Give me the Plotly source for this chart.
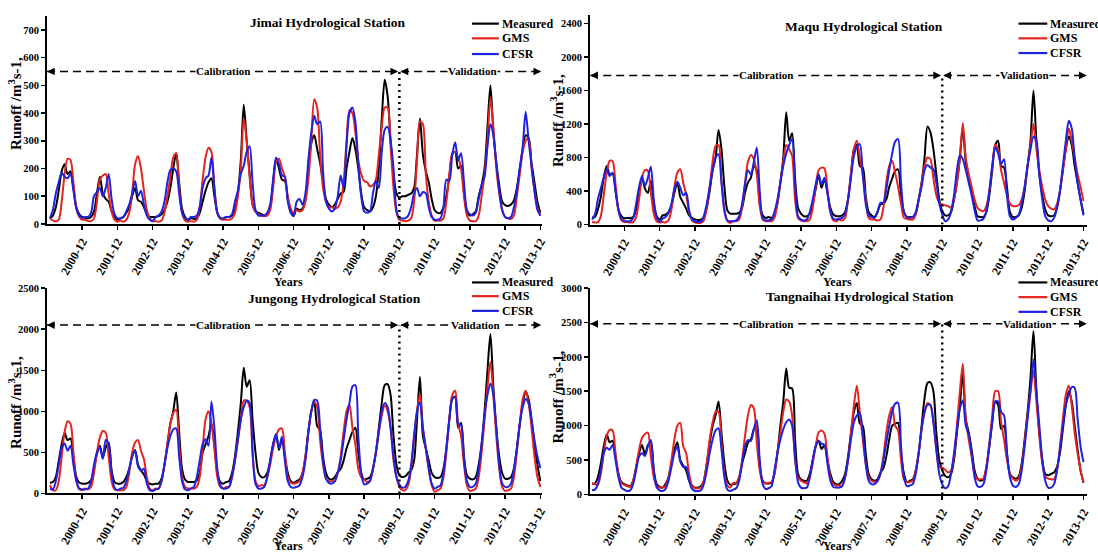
import plotly.graph_objects as go

W, H = 1098, 559

# ---------------- data (monthly, 2000-01 .. 2013-12) ----------------
month_index = list(range(168))
x_tick_vals = [11, 23, 35, 47, 59, 71, 83, 95, 107, 119, 131, 143, 155, 167]
x_tick_labels = ["2000-12", "2001-12", "2002-12", "2003-12", "2004-12", "2005-12", "2006-12",
                 "2007-12", "2008-12", "2009-12", "2010-12", "2011-12", "2012-12", "2013-12"]
split_month = 119  # 2009-12: calibration / validation boundary

jimai_measured = [
    20, 30, 60, 120, 190, 215, 180, 190, 130, 60, 35, 25,
    22, 20, 25, 45, 110, 170, 110, 90, 80, 45, 25, 15,
    20, 25, 40, 60, 100, 130, 85, 80, 60, 35, 25, 25,
    25, 28, 35, 50, 80, 130, 200, 255, 150, 55, 25, 15,
    20, 18, 20, 40, 80, 120, 150, 165, 100, 40, 20, 18,
    25, 25, 30, 50, 110, 230, 430, 300, 180, 70, 45, 40,
    35, 30, 35, 60, 150, 235, 200, 160, 155, 90, 50, 30,
    55, 50, 55, 90, 200, 290, 320, 270, 220, 150, 90, 70,
    60, 70, 90, 110, 115, 200, 260, 310, 270, 200, 110, 60,
    50, 45, 60, 100, 200, 380, 520, 460, 300, 180, 110, 95,
    100, 100, 105, 110, 130, 250, 380, 250, 190, 150, 90, 50,
    40, 40, 60, 100, 170, 250, 260, 200, 210, 110, 45, 30,
    35, 45, 100, 140, 200, 350, 500, 330, 220, 140, 80, 68,
    65, 70, 85, 130, 200, 270, 320, 310, 220, 150, 80, 40]
jimai_gms = [
    20, 12, 10, 15, 80, 180, 235, 230, 150, 55, 25, 15,
    15, 10, 10, 20, 80, 160, 175, 180, 110, 45, 15, 8,
    12, 8, 15, 40, 110, 215, 245, 200, 120, 50, 20, 10,
    10, 8, 12, 40, 100, 170, 240, 255, 130, 40, 12, 8,
    10, 8, 15, 60, 160, 240, 275, 260, 130, 40, 18, 15,
    15, 15, 20, 40, 100, 200, 380, 300, 170, 70, 45, 35,
    30, 28, 30, 50, 130, 225, 235, 200, 170, 100, 55, 40,
    50, 45, 50, 80, 160, 300, 450, 420, 250, 130, 80, 60,
    60, 55, 60, 80, 150, 300, 410, 400, 330, 230, 180, 155,
    150, 135, 140, 160, 250, 350, 420, 420, 280, 130, 40, 15,
    12, 10, 12, 20, 80, 230, 370, 360, 180, 80, 30, 12,
    12, 12, 20, 80, 180, 255, 260, 240, 200, 100, 30, 12,
    10, 10, 30, 100, 180, 300, 455, 350, 200, 110, 50, 25,
    20, 18, 30, 100, 180, 260, 300, 310, 200, 120, 60, 30]
jimai_cfsr = [
    20, 50, 110, 150, 185, 170, 165, 180, 120, 55, 30, 22,
    25, 25, 40, 100, 115, 130, 100, 130, 180, 90, 35, 20,
    20, 25, 45, 70, 110, 155, 100, 120, 70, 30, 15, 10,
    25, 30, 45, 80, 150, 195, 200, 190, 110, 40, 20, 15,
    25, 25, 30, 60, 130, 165, 175, 240, 130, 40, 22, 20,
    25, 25, 35, 80, 120, 180, 210, 260, 280, 150, 50, 30,
    30, 30, 40, 70, 160, 240, 215, 175, 170, 80, 40, 28,
    80, 90, 70, 110, 230, 330, 390, 360, 370, 190, 80, 55,
    45, 55, 100, 175, 130, 280, 400, 420, 370, 220, 100, 45,
    40, 45, 110, 155, 130, 260, 340, 350, 300, 200, 50, 20,
    20, 20, 30, 60, 110, 130, 100, 115, 110, 60, 25, 15,
    15, 20, 60, 160, 155, 250, 295, 230, 255, 150, 50, 35,
    30, 40, 90, 140, 170, 280, 360, 320, 220, 120, 50, 25,
    20, 25, 60, 120, 200, 280, 405, 300, 210, 120, 50, 30]

maqu_measured = [
    85, 90, 180, 330, 560, 700, 600, 610, 400, 180, 100, 75,
    80, 75, 90, 180, 380, 560, 430, 380, 520, 250, 100, 60,
    110, 120, 150, 220, 380, 500, 330, 260, 190, 110, 80, 60,
    55, 60, 90, 200, 400, 650, 800, 1130, 900, 450, 170, 130,
    130, 130, 140, 200, 380, 500, 560, 700, 650, 250, 110, 80,
    90, 80, 120, 250, 500, 800, 1340, 1000, 1090, 550, 200, 130,
    100, 100, 130, 250, 420, 590, 440, 540, 380, 200, 120, 100,
    100, 110, 150, 300, 600, 900, 950, 700, 680, 350, 150, 110,
    90, 150, 240, 250, 300, 450, 550, 640, 660, 350, 150, 90,
    90, 90, 130, 300, 500, 800, 1170, 1100, 900, 600, 300, 160,
    110, 110, 150, 300, 500, 800, 1150, 750, 580, 400, 220, 100,
    90, 90, 150, 350, 650, 950, 1000, 700, 680, 450, 150, 90,
    90, 110, 200, 400, 700, 1000, 1600, 1000, 600, 350, 180, 110,
    100, 110, 200, 400, 650, 900, 1050, 950, 700, 500, 300, 130]
maqu_gms = [
    30, 25, 30, 100, 350, 620, 760, 760, 480, 170, 50, 30,
    30, 25, 30, 90, 300, 560, 650, 640, 380, 130, 40, 25,
    30, 25, 50, 180, 450, 620, 660, 500, 360, 150, 50, 25,
    20, 20, 50, 200, 450, 750, 940, 950, 520, 180, 40, 20,
    40, 40, 60, 200, 500, 750, 830, 780, 600, 220, 60, 40,
    40, 40, 80, 250, 500, 750, 950, 900, 820, 300, 80, 50,
    40, 40, 60, 200, 450, 650, 680, 670, 420, 150, 50, 40,
    60, 50, 80, 300, 620, 900, 1000, 800, 600, 300, 80, 60,
    60, 50, 60, 200, 500, 700, 760, 620, 450, 250, 80, 70,
    60, 60, 120, 300, 500, 700, 800, 780, 550, 350, 260, 240,
    230, 220, 200, 300, 500, 800, 1210, 800, 600, 450, 300, 200,
    170, 160, 220, 400, 700, 950, 900, 650, 500, 350, 250, 220,
    220, 230, 300, 450, 700, 950, 1200, 900, 650, 450, 300, 220,
    190, 180, 250, 400, 650, 900, 1150, 1000, 800, 600, 450, 280]
maqu_cfsr = [
    60, 120, 300, 430, 560, 660, 580, 620, 420, 170, 70, 45,
    40, 40, 80, 250, 450, 580, 460, 560, 690, 300, 80, 35,
    70, 90, 140, 250, 420, 510, 440, 350, 380, 170, 60, 40,
    30, 35, 100, 250, 450, 650, 800, 840, 500, 160, 50, 40,
    40, 50, 100, 250, 480, 650, 600, 750, 920, 400, 80, 50,
    50, 60, 150, 300, 500, 700, 850, 950, 1020, 500, 100, 60,
    50, 60, 150, 300, 480, 600, 480, 560, 380, 150, 70, 60,
    70, 80, 130, 300, 560, 820, 930, 960, 600, 250, 110, 90,
    80, 150, 260, 260, 420, 650, 850, 990, 1020, 500, 150, 90,
    80, 90, 150, 300, 450, 650, 710, 680, 660, 500, 250, 120,
    40, 60, 150, 350, 650, 830, 780, 650, 500, 350, 170, 50,
    50, 70, 160, 400, 700, 920, 850, 720, 780, 350, 100, 60,
    80, 120, 250, 450, 700, 900, 1050, 1000, 600, 300, 100, 50,
    40, 80, 200, 400, 700, 1000, 1240, 1150, 800, 500, 300, 110]

jungong_measured = [
    130, 140, 200, 400, 600, 740, 650, 670, 450, 200, 130, 120,
    120, 130, 160, 300, 480, 580, 440, 560, 620, 280, 140, 120,
    120, 140, 200, 300, 450, 530, 350, 280, 230, 150, 120, 110,
    120, 120, 180, 350, 600, 850, 1000, 1230, 750, 300, 170, 140,
    140, 140, 160, 250, 500, 600, 700, 850, 600, 250, 140, 120,
    140, 150, 250, 450, 750, 1100, 1530, 1300, 1380, 900, 500, 250,
    200, 200, 250, 400, 600, 720, 530, 660, 450, 250, 150, 130,
    150, 170, 250, 450, 750, 1000, 1130, 820, 770, 450, 250, 180,
    170, 200, 260, 300, 400, 550, 650, 750, 800, 500, 250, 170,
    180, 200, 300, 500, 800, 1100, 1320, 1330, 1200, 700, 350, 220,
    200, 210, 250, 280, 400, 900, 1420, 700, 550, 400, 250, 200,
    190, 200, 300, 550, 900, 1150, 1180, 800, 860, 450, 220, 180,
    170, 200, 350, 600, 1000, 1500, 1940, 1300, 800, 450, 250, 180,
    180, 200, 300, 550, 850, 1100, 1240, 1150, 900, 600, 350, 150]
jungong_gms = [
    100, 40, 40, 150, 450, 750, 880, 850, 500, 150, 50, 40,
    60, 50, 80, 250, 500, 680, 760, 740, 450, 150, 50, 40,
    40, 40, 80, 250, 500, 620, 650, 520, 420, 200, 60, 40,
    60, 60, 150, 350, 600, 850, 980, 1020, 600, 200, 80, 60,
    60, 60, 80, 200, 550, 900, 1000, 850, 550, 200, 80, 60,
    80, 80, 200, 400, 650, 900, 1130, 1130, 1050, 500, 150, 90,
    100, 100, 200, 350, 550, 700, 780, 790, 500, 200, 130, 120,
    130, 150, 250, 450, 750, 1000, 1110, 1050, 650, 350, 180, 150,
    150, 150, 250, 450, 750, 1000, 1080, 800, 600, 300, 200, 170,
    140, 160, 300, 500, 750, 950, 1070, 1000, 800, 400, 200, 80,
    40, 40, 100, 300, 700, 1000, 1210, 800, 550, 300, 100, 20,
    40, 60, 200, 500, 900, 1200, 1250, 850, 700, 350, 100, 30,
    40, 60, 200, 500, 900, 1300, 1600, 1200, 700, 300, 80, 30,
    40, 60, 200, 500, 850, 1150, 1250, 1100, 800, 450, 200, 80]
jungong_cfsr = [
    60, 50, 150, 350, 550, 610, 520, 580, 350, 150, 60, 50,
    50, 60, 150, 350, 500, 560, 420, 650, 600, 250, 70, 40,
    60, 70, 150, 300, 450, 520, 330, 280, 300, 120, 40, 30,
    50, 60, 150, 350, 550, 700, 780, 790, 450, 150, 50, 40,
    60, 80, 200, 400, 600, 660, 580, 1120, 800, 300, 100, 60,
    60, 80, 200, 400, 650, 900, 1050, 1130, 1100, 500, 120, 60,
    60, 80, 200, 400, 600, 720, 550, 690, 400, 150, 80, 70,
    80, 100, 200, 400, 750, 1000, 1140, 1130, 800, 400, 180, 130,
    120, 150, 250, 400, 650, 900, 1100, 1300, 1320, 700, 250, 110,
    120, 150, 300, 500, 750, 1000, 1100, 1050, 800, 450, 200, 110,
    70, 80, 150, 350, 700, 1000, 1110, 800, 550, 300, 120, 60,
    80, 100, 250, 550, 900, 1150, 1170, 850, 830, 420, 150, 80,
    80, 120, 300, 600, 950, 1200, 1340, 1200, 800, 350, 120, 80,
    80, 120, 300, 550, 850, 1050, 1150, 1100, 900, 650, 450, 310]

tangnaihai_measured = [
    160, 160, 250, 450, 700, 870, 760, 780, 550, 300, 180, 150,
    130, 120, 200, 400, 600, 720, 580, 720, 760, 350, 150, 110,
    100, 150, 250, 450, 650, 760, 500, 420, 350, 200, 130, 100,
    100, 120, 200, 450, 750, 1000, 1150, 1350, 900, 450, 200, 140,
    150, 160, 250, 450, 600, 750, 800, 950, 1000, 400, 200, 160,
    160, 170, 300, 600, 1000, 1350, 1830, 1550, 1540, 800, 300, 220,
    200, 200, 300, 500, 700, 780, 660, 720, 500, 300, 180, 150,
    150, 200, 300, 550, 900, 1200, 1330, 1030, 1000, 600, 300, 220,
    200, 220, 320, 380, 550, 800, 1000, 1030, 1040, 600, 300, 180,
    200, 220, 350, 600, 1000, 1400, 1620, 1630, 1500, 900, 500, 350,
    270, 250, 300, 500, 900, 1300, 1750, 1100, 900, 650, 350, 230,
    200, 220, 400, 700, 1050, 1350, 1300, 950, 1000, 600, 300, 250,
    230, 260, 450, 800, 1200, 1700, 2380, 1500, 900, 500, 300, 280,
    300, 320, 400, 600, 950, 1300, 1500, 1350, 1000, 650, 350, 170]
tangnaihai_gms = [
    160, 150, 140, 300, 600, 850, 940, 930, 600, 300, 160, 140,
    120, 110, 200, 400, 650, 820, 880, 900, 550, 250, 120, 100,
    100, 120, 250, 500, 800, 1000, 1040, 700, 600, 300, 130, 90,
    90, 100, 200, 450, 800, 1050, 1200, 1200, 750, 300, 130, 100,
    170, 170, 250, 500, 850, 1150, 1300, 1250, 750, 350, 180, 160,
    170, 180, 300, 600, 900, 1200, 1380, 1350, 1150, 500, 250, 200,
    180, 160, 250, 450, 700, 900, 930, 880, 550, 250, 150, 130,
    130, 130, 250, 500, 900, 1300, 1580, 1200, 800, 450, 250, 200,
    180, 190, 300, 550, 900, 1150, 1270, 1000, 930, 500, 220, 180,
    180, 200, 350, 600, 950, 1200, 1330, 1300, 1050, 650, 400, 390,
    360, 320, 350, 550, 1000, 1500, 1900, 1100, 800, 550, 300, 220,
    220, 230, 400, 750, 1150, 1500, 1500, 1050, 800, 500, 300, 230,
    200, 230, 400, 750, 1150, 1500, 1800, 1350, 850, 450, 260, 230,
    220, 220, 350, 700, 1100, 1450, 1580, 1300, 900, 600, 350, 180]
tangnaihai_cfsr = [
    60, 70, 150, 350, 600, 680, 650, 720, 500, 250, 100, 70,
    50, 60, 150, 350, 550, 600, 560, 700, 790, 350, 100, 60,
    50, 80, 200, 400, 600, 700, 480, 400, 400, 200, 80, 50,
    50, 60, 150, 350, 600, 800, 930, 960, 650, 250, 70, 50,
    70, 90, 200, 450, 700, 790, 780, 950, 1080, 500, 150, 80,
    90, 120, 350, 600, 800, 950, 1050, 1090, 1000, 550, 180, 100,
    90, 100, 250, 500, 700, 780, 740, 720, 450, 200, 110, 100,
    100, 120, 250, 500, 800, 1050, 1150, 1180, 900, 450, 200, 150,
    150, 200, 300, 500, 750, 1000, 1200, 1320, 1330, 700, 250, 120,
    130, 150, 300, 600, 950, 1200, 1300, 1300, 1050, 650, 300, 150,
    90, 120, 300, 600, 950, 1250, 1370, 1000, 880, 600, 250, 120,
    110, 150, 350, 700, 1050, 1350, 1350, 1200, 1150, 600, 250, 130,
    110, 150, 350, 700, 1100, 1500, 1960, 1500, 1000, 500, 200, 100,
    100, 150, 350, 650, 1000, 1300, 1450, 1560, 1550, 1100, 700, 470]

series_names = ["Measured", "GMS", "CFSR"]
series_colors = ["#000000", "#e3241f", "#1f23e0"]

FONT = "Liberation Serif"

panels = [
    dict(title="Jimai Hydrological Station", data=[jimai_measured, jimai_gms, jimai_cfsr],
         yrange=[0, 750], dtick=100, arrow_y=550,
         px_x=(47.3, 545.0), px_y=(11.3, 223.3), xrange=[-1.0, 167.4],
         title_px=(330, 18), ytitle_px=(15, 100), years_px=(290, 283),
         legend_line=(475, 502), legend_rows=(19, 34, 50), val_x=144),
    dict(title="Maqu Hydrological Station", data=[maqu_measured, maqu_gms, maqu_cfsr],
         yrange=[0, 2500], dtick=400, arrow_y=1780,
         px_x=(594.0, 1094.0), px_y=(10.3, 224.0), xrange=[-0.6, 168.2],
         title_px=(870, 22), ytitle_px=(560, 118), years_px=(843, 283),
         legend_line=(1025, 1054), legend_rows=(19, 34, 49), val_x=147),
    dict(title="Jungong Hydrological Station", data=[jungong_measured, jungong_gms, jungong_cfsr],
         yrange=[0, 2500], dtick=500, arrow_y=2050,
         px_x=(47.3, 545.0), px_y=(288.8, 498.3), xrange=[-1.0, 167.4],
         title_px=(337, 299), ytitle_px=(15, 405), years_px=(290, 552),
         legend_line=(475, 502), legend_rows=(283, 297, 312), val_x=145),
    dict(title="Tangnaihai Hydrological Station", data=[tangnaihai_measured, tangnaihai_gms, tangnaihai_cfsr],
         yrange=[0, 3000], dtick=500, arrow_y=2480,
         px_x=(594.0, 1094.0), px_y=(288.7, 499.3), xrange=[-0.6, 168.2],
         title_px=(866, 297), ytitle_px=(560, 400), years_px=(843, 552),
         legend_line=(1025, 1054), legend_rows=(283, 298, 313), val_x=148),
]

fig = go.Figure()
shapes, annotations = [], []
layout_axes = {}

for i, p in enumerate(panels, start=1):
    sfx = "" if i == 1 else str(i)
    xref, yref = "x" + sfx, "y" + sfx
    for vals, name, col in zip(p["data"], series_names, series_colors):
        assert len(vals) == 168
        fig.add_trace(go.Scatter(
            x=month_index, y=vals, mode="lines", name=name,
            line=dict(color=col, width=2.0, shape="spline", smoothing=0.8),
            xaxis=xref, yaxis=yref, showlegend=False))

    x0, x1 = p["px_x"]
    yt, yb = p["px_y"]
    layout_axes["xaxis" + sfx] = dict(
        domain=[x0 / W, x1 / W], range=p["xrange"], anchor=yref,
        tickmode="array", tickvals=x_tick_vals, ticktext=x_tick_labels, tickangle=-60,
        tickfont=dict(family=FONT, size=12, color="black", weight="bold"),
        showline=True, linecolor="black", linewidth=2, ticks="outside", ticklen=4,
        tickwidth=1.5, tickcolor="black", showgrid=False, zeroline=False, mirror=False)
    layout_axes["yaxis" + sfx] = dict(
        domain=[1 - yb / H, 1 - yt / H], range=p["yrange"], anchor=xref,
        dtick=p["dtick"], tick0=0,
        tickfont=dict(family=FONT, size=10.5, color="black", weight="bold"),
        showline=True, linecolor="black", linewidth=2, ticks="outside", ticklen=4,
        tickwidth=1.5, tickcolor="black", showgrid=False, zeroline=False, mirror=False)

    # legend (key lines + labels)
    lx0, lx1 = p["legend_line"]
    for row_y, name, col in zip(p["legend_rows"], series_names, series_colors):
        shapes.append(dict(type="line", xref="paper", yref="paper",
                           x0=lx0 / W, x1=lx1 / W, y0=1 - row_y / H, y1=1 - row_y / H,
                           line=dict(color=col, width=2.2)))
        annotations.append(dict(x=(lx1 + 1) / W, y=1 - row_y / H, xref="paper", yref="paper",
                                text=name, showarrow=False, xanchor="left", yanchor="middle",
                                font=dict(family=FONT, size=12, color="black", weight="bold")))

    ay = p["arrow_y"]
    xs, xe = p["xrange"][0], p["xrange"][1] - 0.1
    shapes.append(dict(type="line", xref=xref, yref=yref, x0=xs, x1=split_month - 0.6, y0=ay, y1=ay,
                       line=dict(color="black", width=1.5, dash="8px,5px")))
    shapes.append(dict(type="line", xref=xref, yref=yref, x0=split_month + 0.6, x1=xe, y0=ay, y1=ay,
                       line=dict(color="black", width=1.5, dash="8px,5px")))
    shapes.append(dict(type="line", xref=xref, yref=yref, x0=split_month, x1=split_month, y0=0, y1=ay,
                       line=dict(color="black", width=2.5, dash="2px,4px")))
    for tip, tail in [(xs, xs + 3), (split_month - 0.4, split_month - 3.4),
                      (split_month + 0.4, split_month + 3.4), (xe, xe - 3)]:
        annotations.append(dict(x=tip, y=ay, ax=tail, ay=ay, xref=xref, yref=yref,
                                axref=xref, ayref=yref, text="", showarrow=True,
                                arrowhead=2, arrowsize=1.1, arrowwidth=1.4, arrowcolor="black"))
    annotations.append(dict(x=(xs + split_month) / 2, y=ay, xref=xref, yref=yref, text="Calibration",
                            showarrow=False, bgcolor="white", borderpad=0,
                            font=dict(family=FONT, size=11, color="black", weight="bold")))
    annotations.append(dict(x=p["val_x"], y=ay, xref=xref, yref=yref, text="Validation",
                            showarrow=False, bgcolor="white", borderpad=0,
                            font=dict(family=FONT, size=11, color="black", weight="bold")))
    annotations.append(dict(x=p["title_px"][0] / W, y=1 - p["title_px"][1] / H, xref="paper", yref="paper",
                            text=p["title"], showarrow=False, xanchor="center", yanchor="middle",
                            font=dict(family=FONT, size=13.5, color="black", weight="bold")))
    annotations.append(dict(x=p["ytitle_px"][0] / W, y=1 - p["ytitle_px"][1] / H, xref="paper", yref="paper",
                            text="Runoff /m<sup>3</sup>s-1,", textangle=-90, showarrow=False,
                            xanchor="center", yanchor="middle",
                            font=dict(family=FONT, size=15, color="black", weight="bold")))
    annotations.append(dict(x=p["years_px"][0] / W, y=1 - p["years_px"][1] / H, xref="paper", yref="paper",
                            text="Years", showarrow=False, xanchor="center", yanchor="middle",
                            font=dict(family=FONT, size=12, color="black", weight="bold")))

fig.update_layout(
    width=W, height=H, autosize=False,
    margin=dict(l=0, r=0, t=0, b=0),
    paper_bgcolor="white", plot_bgcolor="white",
    font=dict(family=FONT, color="black"),
    hovermode=False,
    shapes=shapes, annotations=annotations,
    **layout_axes)

fig.write_html("out.html",
               config={"displayModeBar": False, "staticPlot": True},
               post_script="document.body.style.margin='0';document.body.style.overflow='hidden';")
